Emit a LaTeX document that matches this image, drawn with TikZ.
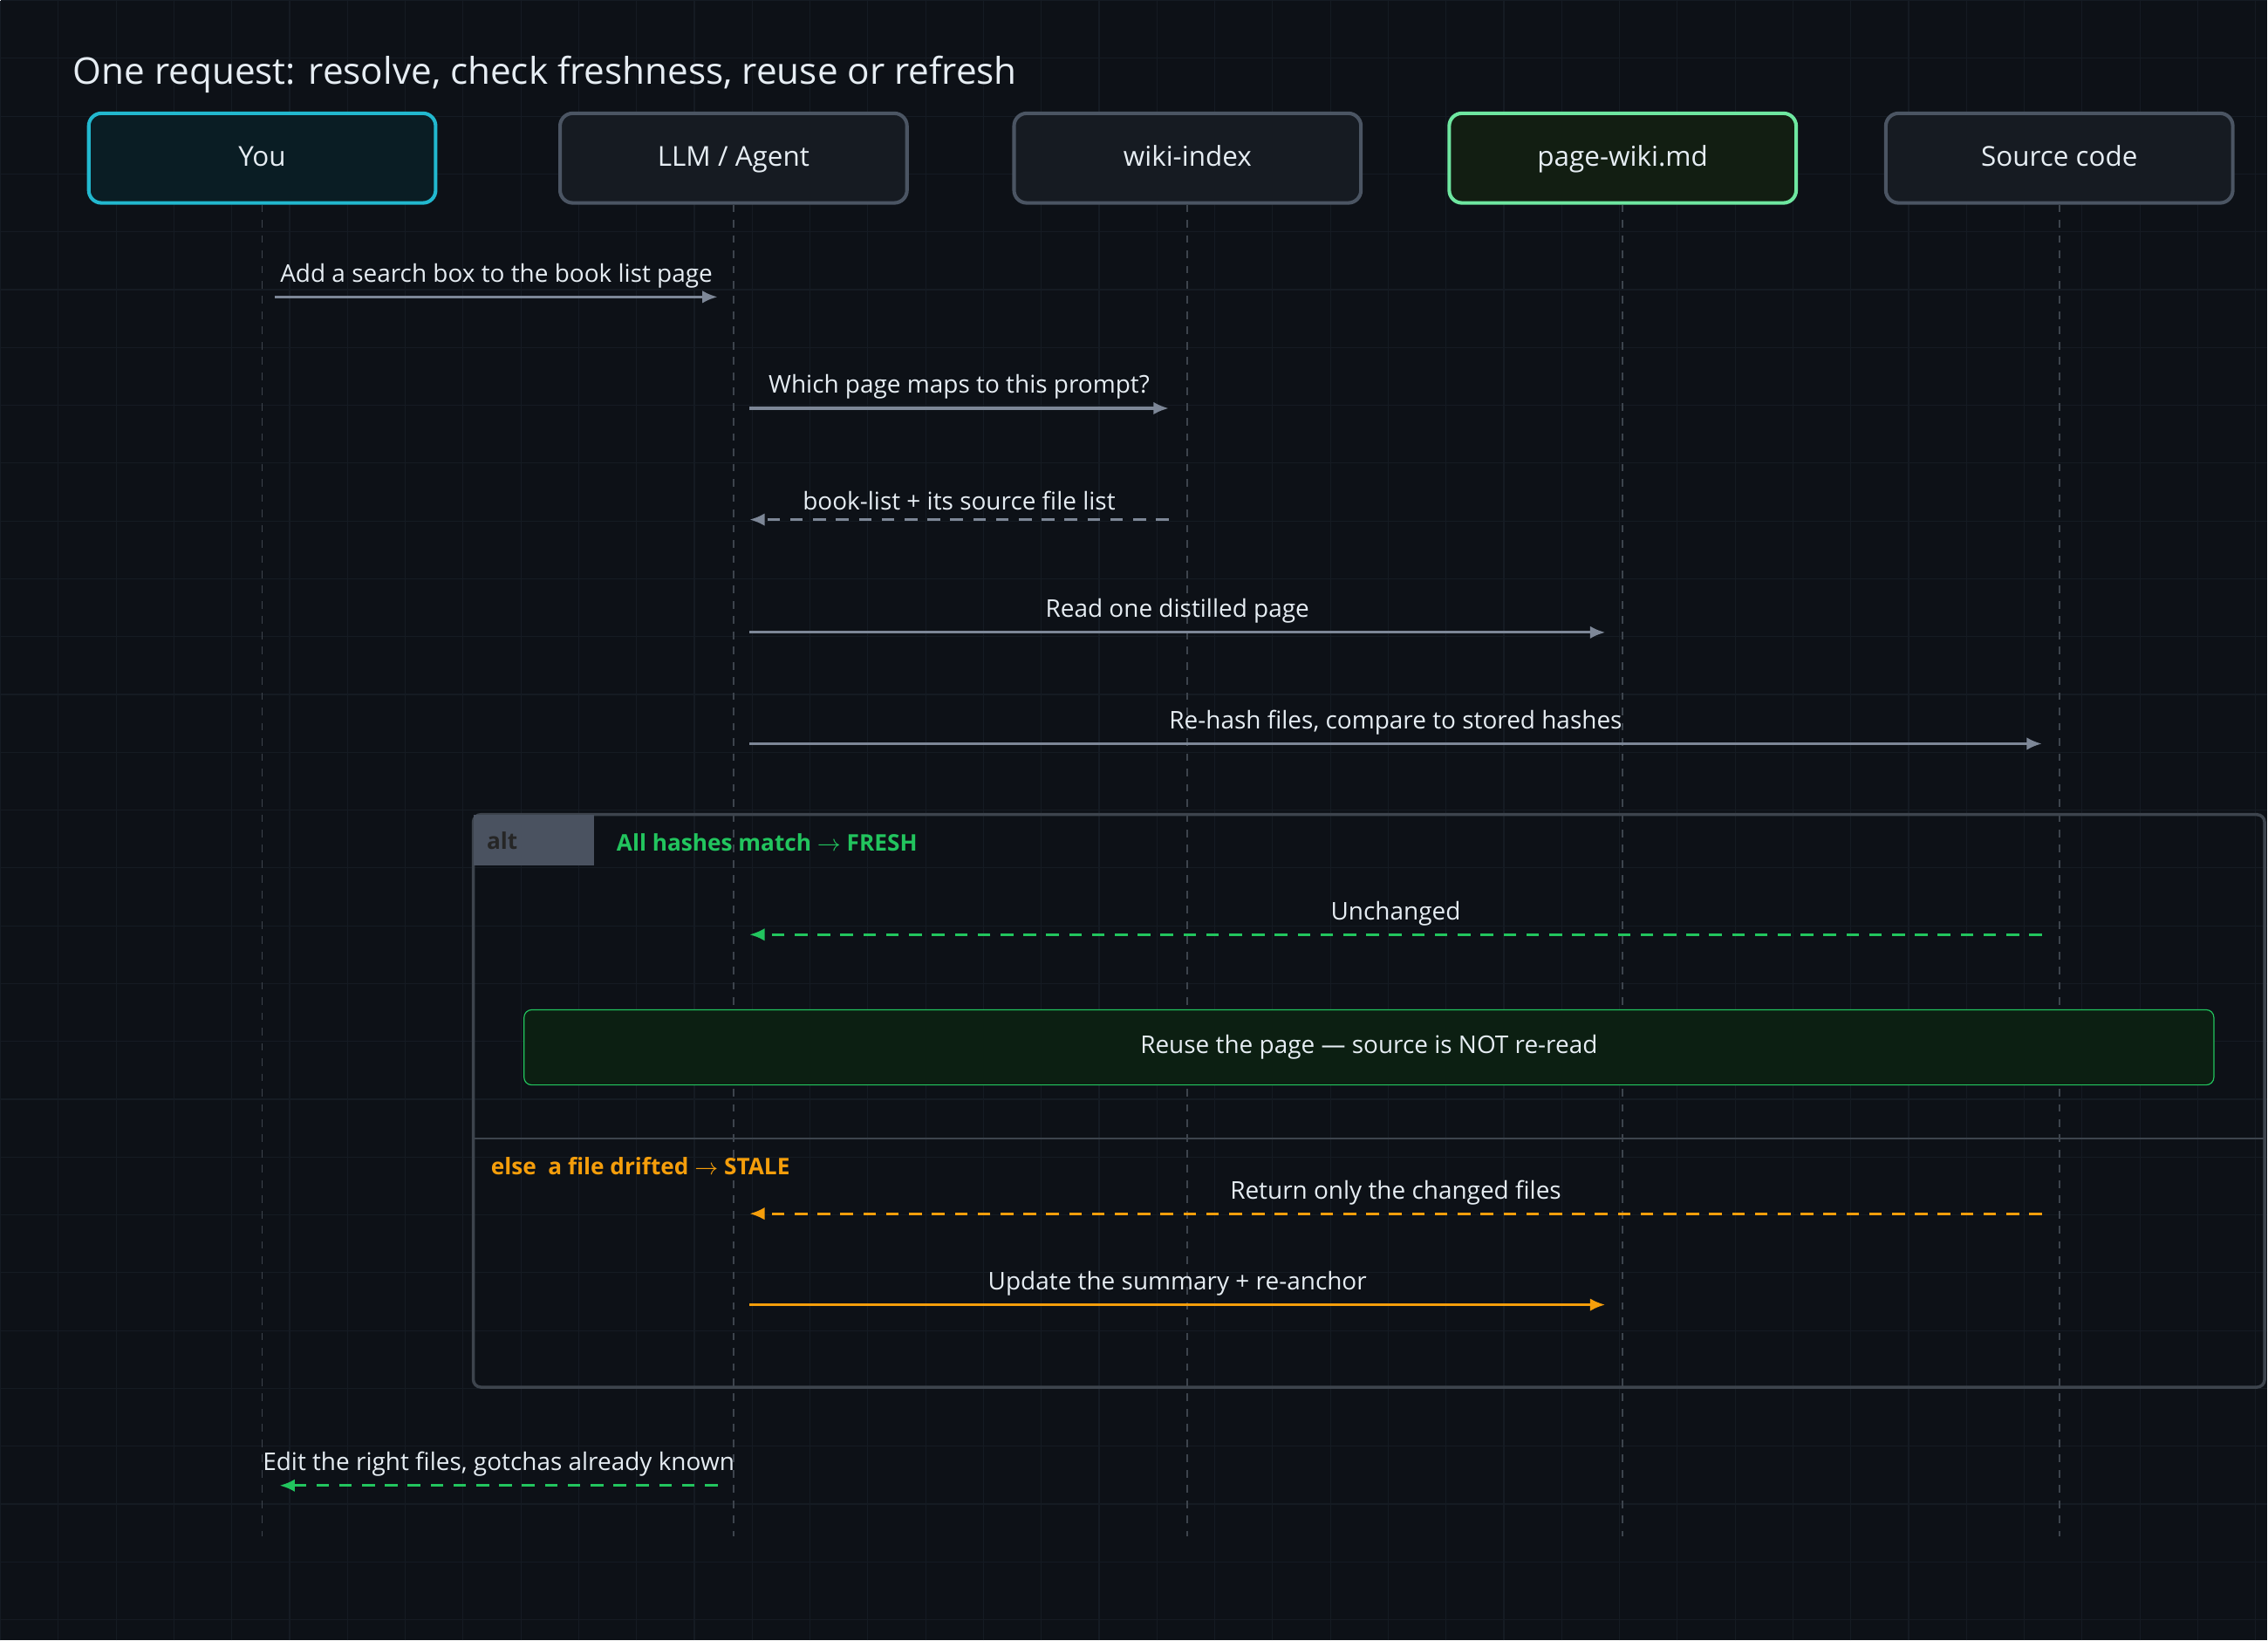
\documentclass[tikz,border=0pt]{standalone}
\usepackage{fontspec}
\setmainfont{Open Sans}
\usetikzlibrary{arrows.meta,positioning,calc}
\definecolor{bgDark}{HTML}{0D1117}
\definecolor{gridLine}{HTML}{151B23}
\definecolor{boxFill}{HTML}{161B22}
\definecolor{boxEdge}{HTML}{4B5563}
\definecolor{youEdge}{HTML}{22B8CF}
\definecolor{youFill}{HTML}{0A1D24}
\definecolor{pageEdge}{HTML}{6EE7A0}
\definecolor{pageFill}{HTML}{121E12}
\definecolor{msgGray}{HTML}{7D8797}
\definecolor{txtLight}{HTML}{E6EDF3}
\definecolor{okGreen}{HTML}{22C55E}
\definecolor{noteFill}{HTML}{0C1F12}
\definecolor{warnOrange}{HTML}{F59E0B}
\definecolor{altGray}{HTML}{4A5260}
\definecolor{frameGray}{HTML}{3D444D}
\tikzset{
    actor/.style = {draw=boxEdge, fill=boxFill, line width=1.4pt, rounded corners=5pt,
        minimum width=4.8cm, minimum height=1.24cm, text=txtLight, text height=1.6ex, text depth=0.4ex,
        font=\fontsize{10.8}{13}\selectfont},
    lifeline/.style = {draw=frameGray, dashed, line width=0.6pt},
    msg/.style = {draw=msgGray, line width=1.1pt, -{Latex[length=6pt,width=5pt]}},
    reply/.style = {msg, dash pattern=on 5pt off 4pt},
    msglabel/.style = {text=txtLight, font=\fontsize{9.6}{11}\selectfont, above, inner sep=3pt},
    guard/.style = {font=\fontsize{9}{11}\selectfont\bfseries, anchor=west}
}
\begin{document}
\begin{tikzpicture}[x=0.02cm, y=-0.02cm]
    \fill[bgDark] (0,0) rectangle (1568,1134);
    \draw[gridLine, line width=0.4pt, step=0.8cm] (0,0) grid (1568,1134);
    \node[anchor=west, text=txtLight, font=\fontsize{14.5}{17}\selectfont] (title) at (44,51) {One request: resolve, check freshness, reuse or refresh};
    % actors
    \node[actor, draw=youEdge, fill=youFill] (you) at (181,109) {You};
    \node[actor] (agent) at (507,109) {LLM / Agent};
    \node[actor] (index) at (821,109) {wiki-index};
    \node[actor, draw=pageEdge, fill=pageFill] (page) at (1122,109) {page-wiki.md};
    \node[actor] (src) at (1424,109) {Source code};
    \foreach \a in {you,agent,index,page,src}{
        \coordinate (\a end) at (\a.south |- 0,1062);
        \draw[lifeline] (\a.south) -- (\a end);
    }
    % alt frame
    \draw[frameGray, line width=1.2pt, rounded corners=3pt] (327,563) rectangle (1566,959);
    \node[fill=altGray, minimum width=1.66cm, minimum height=0.7cm, anchor=north west,
        text=black!85, font=\fontsize{9}{11}\selectfont\bfseries, text width=1.3cm] (alttag) at (327,563) {alt};
    \node[guard, text=okGreen] (fresh) at (420,582) {All hashes match $\rightarrow$ FRESH};
    \draw[frameGray, line width=1pt] (327,787) -- (1566,787);
    \node[guard, text=warnOrange] (stale) at (333,806) {else\ \ a file drifted $\rightarrow$ STALE};
    \node[draw=okGreen, fill=noteFill, rounded corners=3pt, minimum width=23.38cm, minimum height=1.04cm,
        text=txtLight, font=\fontsize{9.6}{11}\selectfont] (reuse) at (946.5,724) {Reuse the page --- source is NOT re-read};
    % messages
    \coordinate (m1a) at (190,205);  \coordinate (m1b) at (496,205);
    \coordinate (m2a) at (518,282);  \coordinate (m2b) at (808,282);
    \coordinate (m3a) at (808,359);  \coordinate (m3b) at (518,359);
    \coordinate (m4a) at (518,437);  \coordinate (m4b) at (1110,437);
    \coordinate (m5a) at (518,514);  \coordinate (m5b) at (1412,514);
    \coordinate (m6a) at (1412,646); \coordinate (m6b) at (518,646);
    \coordinate (m7a) at (1412,839); \coordinate (m7b) at (518,839);
    \coordinate (m8a) at (518,902);  \coordinate (m8b) at (1110,902);
    \coordinate (m9a) at (496,1027); \coordinate (m9b) at (193,1027);
    \draw[msg] (m1a) -- node[msglabel] {Add a search box to the book list page} (m1b);
    \draw[msg] (m2a) -- node[msglabel] {Which page maps to this prompt?} (m2b);
    \draw[reply] (m3a) -- node[msglabel] {book-list + its source file list} (m3b);
    \draw[msg] (m4a) -- node[msglabel] {Read one distilled page} (m4b);
    \draw[msg] (m5a) -- node[msglabel] {Re-hash files, compare to stored hashes} (m5b);
    \draw[reply, draw=okGreen] (m6a) -- node[msglabel] {Unchanged} (m6b);
    \draw[reply, draw=warnOrange] (m7a) -- node[msglabel] {Return only the changed files} (m7b);
    \draw[msg, draw=warnOrange] (m8a) -- node[msglabel] {Update the summary + re-anchor} (m8b);
    \draw[reply, draw=okGreen] (m9a) -- node[msglabel] {Edit the right files, gotchas already known} (m9b);
\end{tikzpicture}
\end{document}
